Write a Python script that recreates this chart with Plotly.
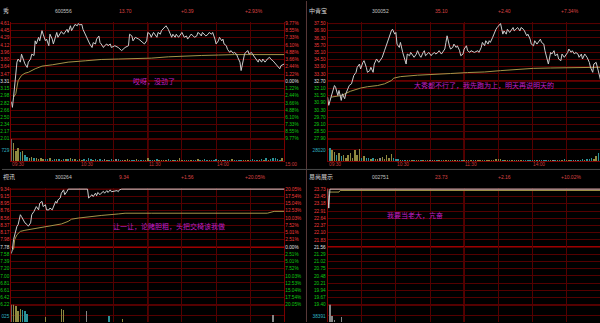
import numpy as np
import plotly.graph_objects as go

W, H = 600, 323

# ---------------- header / text data ----------------
names = ["秀", "中青宝", "视讯", "易尚展示"]
codes = ["600556", "300052", "300264", "002751"]
last_px = ["13.70", "35.10", "9.34", "23.73"]
chg = ["+0.39", "+2.40", "+1.56", "+2.16"]
chg_pct = ["+2.93%", "+7.34%", "+20.05%", "+10.02%"]
notes = ["哎呀，没劲了",
         "大秀都不行了，我先跑为上，明天再说明天的",
         "让一让，论赌胆粗，头把交椅该我做",
         "我要当老大，亢奋"]

time_ticks = [0, 60, 120, 180, 240]
time_labels = ["09:30", "10:30", "11:30", "14:00", "15:00"]
grid_minutes = [0, 30, 60, 90, 120, 150, 180, 210, 240]
vol_minutes = list(range(0, 241, 2))

# ---------------- price grid levels ----------------
tl_levels = [14.61, 14.45, 14.29, 14.12, 13.96, 13.80, 13.64, 13.47, 13.31,
             13.15, 12.98, 12.82, 12.66, 12.50, 12.34, 12.17, 12.01]
tl_labels = ["4.61", "4.45", "4.29", "4.12", "3.96", "3.80", "3.64", "3.47", "3.31",
             "3.15", "2.98", "2.82", "2.66", "2.50", "2.34", "2.17", "2.01"]
tl_pct = ["9.77%", "8.55%", "7.33%", "6.10%", "4.88%", "3.66%", "2.44%", "1.22%", "0.00%",
          "1.22%", "2.44%", "3.66%", "4.88%", "6.10%", "7.33%", "8.55%", "9.77%"]

tr_levels = [37.50, 36.90, 36.30, 35.70, 35.10, 34.50, 33.90, 33.30, 32.70,
             32.10, 31.50, 30.90, 30.30, 29.70, 29.10, 28.50, 27.90]
tr_labels = ["37.50", "36.90", "36.30", "35.70", "35.10", "34.50", "33.90", "33.30", "32.70",
             "32.10", "31.50", "30.90", "30.30", "29.70", "29.10", "28.50", "27.90"]

bl_levels = [9.34, 9.15, 8.95, 8.76, 8.56, 8.37, 8.17, 7.98, 7.78,
             7.58, 7.39, 7.20, 7.00, 6.81, 6.61, 6.42, 6.22]
bl_labels = ["9.34", "9.15", "8.95", "8.76", "8.56", "8.37", "8.17", "7.98", "7.78",
             "7.58", "7.39", "7.20", "7.00", "6.81", "6.61", "6.42", "6.22"]
bl_pct = ["20.05%", "17.54%", "15.04%", "12.53%", "10.03%", "7.52%", "5.01%", "2.51%", "0.00%",
          "2.51%", "5.01%", "7.52%", "10.03%", "12.53%", "15.04%", "17.54%", "20.05%"]

br_levels = [23.73, 23.45, 23.18, 22.91, 22.64, 22.37, 22.10, 21.83, 21.56,
             21.29, 21.02, 20.75, 20.48, 20.21, 19.94, 19.67, 19.40]
br_labels = ["23.73", "23.45", "23.18", "22.91", "22.64", "22.37", "22.10", "21.83", "21.56",
             "21.29", "21.02", "20.75", "20.48", "20.21", "19.94", "19.67", "19.40"]

# ---------------- intraday price series (minute index, price) ----------------
tl_min = [0, 1, 2, 4, 5, 6, 8, 9, 11, 12,
          14, 15, 17, 18, 20, 21, 22, 24, 25, 27,
          28, 30, 31, 33, 34, 36, 37, 39, 40, 41,
          43, 44, 46, 47, 49, 50, 52, 53, 55, 56,
          58, 59, 60, 62, 63, 65, 66, 68, 69, 71,
          72, 74, 75, 77, 78, 79, 81, 82, 84, 85,
          87, 88, 91, 94, 97, 100, 103, 104, 106, 107,
          109, 112, 114, 117, 119, 120, 122, 123, 125, 126,
          128, 129, 131, 132, 133, 135, 136, 138, 139, 141,
          142, 144, 145, 147, 150, 151, 152, 154, 155, 157,
          158, 160, 161, 163, 164, 166, 167, 168, 170, 171,
          173, 174, 176, 177, 179, 180, 182, 183, 185, 186,
          187, 189, 190, 192, 193, 195, 196, 198, 199, 201,
          202, 204, 205, 206, 208, 209, 211, 212, 214, 215,
          217, 218, 220, 221, 223, 224, 225, 227, 228, 230,
          231, 233, 234, 236, 237, 239, 240]
tl_px = [12.85, 12.72, 12.95, 13.62, 13.74, 13.81, 13.74, 13.92, 13.77, 13.70,
         13.62, 13.74, 13.81, 13.92, 13.89, 14.22, 14.15, 14.30, 14.22, 14.45,
         14.37, 14.22, 14.26, 14.11, 14.37, 14.26, 14.15, 14.30, 14.41, 14.30,
         14.41, 14.43, 14.37, 14.41, 14.48, 14.41, 14.56, 14.45, 14.53, 14.59,
         14.56, 14.61, 14.58, 14.59, 14.48, 14.37, 14.30, 14.22, 14.15, 14.07,
         14.18, 14.15, 14.26, 14.33, 14.18, 14.15, 14.07, 14.11, 14.15, 14.11,
         14.15, 14.07, 14.11, 14.07, 14.00, 14.07, 14.11, 14.37, 14.33, 14.22,
         14.30, 14.26, 14.22, 14.15, 14.22, 14.41, 14.37, 14.30, 14.41, 14.37,
         14.30, 14.41, 14.37, 14.45, 14.48, 14.52, 14.56, 14.48, 14.41, 14.30,
         14.37, 14.30, 14.37, 14.30, 14.41, 14.37, 14.30, 14.33, 14.26, 14.33,
         14.37, 14.33, 14.30, 14.33, 14.41, 14.37, 14.33, 14.41, 14.37, 14.33,
         14.37, 14.41, 14.37, 14.41, 14.26, 14.15, 14.22, 14.30, 14.22, 14.26,
         14.15, 14.11, 14.03, 13.96, 14.00, 13.94, 13.96, 13.92, 13.85, 13.74,
         13.55, 13.81, 13.92, 13.96, 14.00, 13.92, 13.96, 13.92, 13.85, 13.81,
         13.74, 13.81, 13.74, 13.81, 13.74, 13.77, 13.81, 13.85, 13.81, 13.77,
         13.74, 13.70, 13.66, 13.59, 13.66, 13.70, 13.70]
tl_avg_min = [2, 4, 6, 9, 12, 15, 21, 27, 36, 50, 65, 79, 94, 109, 123, 138, 152, 167, 182, 196, 240]
tl_avg = [12.95, 13.03, 13.32, 13.44, 13.49, 13.51, 13.59, 13.65, 13.68, 13.74, 13.77,
          13.80, 13.81, 13.82, 13.83, 13.86, 13.88, 13.89, 13.90, 13.91, 13.91]

tr_min = [0, 1, 3, 4, 6, 7, 9, 10, 12, 13,
          15, 16, 18, 19, 21, 22, 23, 25, 26, 28,
          29, 31, 32, 34, 35, 37, 38, 40, 41, 43,
          44, 45, 47, 48, 50, 51, 53, 54, 56, 57,
          59, 60, 61, 63, 64, 66, 67, 69, 70, 72,
          73, 75, 76, 78, 79, 81, 82, 84, 85, 86,
          88, 89, 91, 92, 94, 95, 97, 98, 100, 101,
          103, 104, 105, 107, 108, 110, 111, 113, 114, 116,
          117, 119, 120, 122, 123, 125, 126, 129, 132, 133,
          135, 136, 138, 139, 141, 142, 143, 145, 146, 148,
          149, 151, 152, 154, 155, 157, 158, 160, 161, 163,
          164, 166, 167, 169, 170, 172, 173, 175, 176, 178,
          179, 181, 182, 184, 185, 187, 188, 190, 191, 193,
          194, 196, 197, 199, 200, 202, 203, 205, 206, 208,
          209, 211, 212, 214, 215, 217, 218, 220, 221, 223,
          224, 226, 227, 228, 230, 231, 233, 234, 236, 237,
          239, 240]
tr_px = [31.37, 30.69, 31.37, 31.65, 32.34, 32.20, 31.51, 31.93, 31.10, 31.65,
         31.24, 31.65, 32.06, 32.34, 32.48, 32.89, 33.17, 33.44, 33.86, 34.13,
         33.72, 34.27, 34.41, 33.86, 33.44, 33.58, 33.86, 33.44, 34.13, 34.55,
         34.41, 34.27, 34.55, 34.69, 35.24, 35.51, 36.07, 36.48, 36.89, 37.03,
         36.62, 36.76, 35.79, 35.51, 35.93, 35.10, 34.69, 34.13, 34.96, 34.82,
         35.10, 34.82, 34.69, 34.96, 35.24, 34.82, 34.69, 35.10, 35.24, 34.82,
         34.96, 35.10, 34.82, 34.96, 35.10, 34.96, 35.10, 35.24, 34.96, 35.10,
         35.38, 35.93, 36.48, 35.65, 35.38, 35.51, 35.79, 35.51, 35.65, 35.24,
         34.82, 34.96, 35.38, 35.65, 35.24, 35.10, 35.24, 35.10, 35.24, 35.10,
         35.51, 35.93, 35.65, 36.07, 35.79, 36.07, 35.93, 36.34, 36.62, 37.03,
         37.17, 37.44, 37.50, 36.62, 36.89, 36.62, 37.03, 36.76, 36.89, 37.17,
         36.89, 37.03, 37.17, 36.89, 37.17, 37.03, 36.89, 36.48, 36.62, 36.20,
         35.79, 35.65, 36.07, 35.79, 35.93, 36.20, 35.93, 35.79, 35.24, 34.55,
         34.13, 35.10, 34.96, 35.24, 34.82, 34.96, 34.55, 34.41, 34.96, 34.69,
         34.82, 35.10, 35.38, 35.10, 35.24, 34.96, 35.10, 34.96, 34.69, 34.96,
         34.55, 34.96, 34.82, 34.69, 34.27, 33.86, 33.44, 34.13, 34.27, 33.86,
         32.89, 32.75]
tr_avg_min = [3, 12, 20, 29, 35, 44, 50, 56, 58, 64, 79, 94, 108, 123, 138, 152, 167, 181, 196, 211, 240]
tr_avg = [31.37, 31.51, 31.86, 32.13, 32.24, 32.34, 32.48, 32.75, 32.95, 33.08, 33.20,
          33.25, 33.34, 33.42, 33.47, 33.58, 33.69, 33.77, 33.80, 33.83, 33.86]

bl_min = [0, 1, 2, 4, 5, 6, 8, 9, 11, 12,
          14, 15, 17, 18, 20, 21, 22, 24, 25, 27,
          28, 30, 31, 33, 34, 36, 37, 39, 40, 41,
          43, 44, 46, 47, 49, 50, 67, 68, 71, 72,
          74, 75, 76, 78, 79, 81, 82, 84, 85, 87,
          88, 91, 93, 94, 95, 97, 240]
bl_px = [7.60, 7.71, 7.98, 8.25, 8.34, 8.38, 8.65, 8.60, 8.47, 8.43,
         8.38, 8.34, 8.43, 8.65, 8.74, 8.83, 8.87, 8.78, 8.96, 9.01,
         8.87, 8.92, 8.78, 8.78, 8.83, 8.78, 8.87, 9.01, 8.96, 9.05,
         9.10, 9.23, 9.32, 9.19, 9.28, 9.34, 9.34, 9.10, 9.19, 9.14,
         9.23, 9.16, 9.25, 9.19, 9.23, 9.28, 9.23, 9.30, 9.25, 9.32,
         9.27, 9.28, 9.30, 9.27, 9.32, 9.34, 9.34]
bl_avg_min = [2, 3, 5, 8, 12, 18, 24, 30, 36, 44, 50, 53, 59, 68, 79, 94, 100, 123, 167, 225, 231, 240]
bl_avg = [7.71, 7.98, 8.11, 8.20, 8.23, 8.26, 8.31, 8.34, 8.35, 8.40, 8.47,
          8.53, 8.56, 8.60, 8.63, 8.67, 8.69, 8.69, 8.69, 8.69, 8.74, 8.74]

br_min = [0, 1, 2, 240]
br_px = [23.73, 23.02, 23.73, 23.73]
br_avg_min = [1, 10, 11, 240]
br_avg = [23.62, 23.62, 23.68, 23.68]

# ---------------- volume (per 2 minutes) ----------------
tl_vol = [1420, 1160, 650, 830, 610, 675, 390, 280, 220, 280,
          175, 220, 150, 175, 110, 150, 130, 175, 90, 130,
          110, 150, 90, 110, 130, 120, 200, 150, 110, 90,
          120, 80, 100, 90, 220, 130, 90, 100, 80, 120,
          90, 110, 70, 90, 120, 80, 100, 150, 90, 80,
          70, 100, 90, 60, 80, 110, 70, 60, 90, 80,
          200, 90, 70, 80, 100, 60, 90, 70, 80, 110,
          80, 60, 70, 90, 220, 80, 70, 60, 90, 80,
          70, 60, 100, 80, 70, 150, 90, 60, 80, 70,
          110, 80, 60, 70, 90, 80, 60, 160, 80, 70,
          90, 70, 80, 60, 90, 70, 110, 80, 70, 60,
          100, 90, 200, 80, 150, 230, 180, 110, 90, 200,
          240]
tr_vol = [54500, 32000, 27600, 23400, 15000, 19400, 12600, 15000, 8300, 15000,
          19400, 8300, 27600, 15000, 30000, 8300, 12000, 8300, 6600, 5000,
          8300, 6000, 5000, 8300, 11000, 5000, 15000, 8300, 18000, 6600,
          5000, 4000, 3000, 2500, 3500, 2000, 3000, 2500, 2000, 3000,
          2500, 2000, 1800, 2500, 2000, 3000, 2000, 1800, 2500, 2000,
          1500, 2000, 1800, 1500, 2000, 1800, 2500, 1500, 2000, 1800,
          3500, 2500, 2000, 1800, 3000, 2500, 2000, 2500, 3000, 2000,
          2500, 2000, 3000, 2500, 4500, 5000, 4000, 3000, 2500, 2000,
          2500, 2000, 1800, 2500, 2000, 1800, 2500, 2000, 3000, 2500,
          3500, 2500, 2000, 2500, 3000, 2500, 2000, 2500, 3000, 2500,
          3000, 2500, 3000, 3500, 4000, 3500, 3000, 2500, 3000, 3500,
          3000, 3500, 4000, 3500, 5000, 4000, 8000, 6000, 12000, 20000,
          15000]
bl_vol = [2200, 2100, 1930, 1470, 1650, 1560, 1470, 1200, 420, 380,
          300, 350, 280, 300, 250, 900, 350, 300, 250, 200,
          300, 250, 1650, 1560, 300, 250, 200, 300, 250, 200,
          250, 200, 150, 1500, 300, 200, 150, 200, 250, 150,
          200, 150, 100, 1040, 200, 150, 100, 150, 200, 735,
          150, 100, 120, 150, 100, 130, 110, 150, 100, 120,
          140, 100, 120, 150, 110, 100, 130, 120, 100, 140,
          110, 100, 130, 120, 150, 100, 120, 110, 100, 130,
          120, 100, 140, 110, 100, 120, 130, 100, 110, 150,
          100, 120, 110, 130, 100, 140, 120, 100, 110, 130,
          120, 100, 150, 110, 130, 100, 120, 140, 110, 160,
          150, 180, 200, 160, 220, 1100, 250, 200, 300, 350,
          400]
br_vol = [20000, 78000, 39000, 25000, 12000, 10000, 34000, 9000, 8000, 7000,
          6000, 8000, 5000, 7000, 6000, 5000, 4000, 6000, 5000, 4000,
          5000, 4000, 3000, 4000, 5000, 3000, 4000, 3000, 2500, 3000,
          4000, 3000, 2500, 3000, 2000, 2500, 3000, 2000, 2500, 2000,
          2000, 2500, 3000, 2000, 1500, 2000, 2500, 2000, 1500, 2000,
          1500, 2000, 1800, 1500, 2000, 1500, 1800, 2000, 1500, 1800,
          2000, 1500, 1800, 1500, 2000, 1800, 1500, 2000, 1800, 1500,
          1800, 2000, 1500, 1800, 1500, 2000, 1800, 1500, 2000, 1800,
          1500, 1800, 2000, 1500, 1800, 2000, 1500, 1800, 1500, 2000,
          1800, 1500, 2000, 1800, 1500, 2000, 1800, 1500, 1800, 2000,
          2000, 2500, 2000, 3000, 2500, 2000, 3000, 2500, 3000, 3500,
          3000, 3500, 4000, 3500, 4000, 5000, 4500, 5000, 6000, 8000,
          9000]
vol_mid_labels = ["729", "28020", "025", "38391"]
vol_tops = [1458, 56040, 2050, 76782]

# ---------------- styles ----------------
GRID = "#540000"
BORDER = "#7a0000"
BRIGHT = "#a80000"
BASE = "#d00000"
RED_T = "#f03a3a"
GREEN_T = "#10c810"
WHITE_T = "#e0e0e0"
CYAN_T = "#30b0c0"
PRICE_C = "#cccccc"
AVG_C = "#a49448"
UP_C = "#8e8840"
DN_C = "#2a9298"
FLAT_C = "#868686"
NOTE_C = "#c01ec4"
NUM_FONT = "Liberation Sans, Arial, sans-serif"
CJK_FONT = "Noto Sans CJK SC, sans-serif"

X_PX = [(9.3, 283.3), (326.7, 600.0)]
SPAN_PX = 274.0
PRICE_PX = [(22.7, 138.7), (189.3, 305.7)]
VOL_PX = [(138.7, 161.0), (305.7, 328.0)]
HEAD_Y = [10.0, 176.7]
TIME_Y = 165.0
HEAD_X = [[0, 52, 116, 179, 243], [307, 370, 433, 497, 560]]
NOTE_XY = [(152.5, 80.7), (484, 85), (168, 226), (414, 215)]
P = 1.5

panels = [
    dict(mins=tl_min, pxs=tl_px, amin=tl_avg_min, avg=tl_avg, lv=tl_levels, lab=tl_labels, pct=tl_pct, vol=tl_vol),
    dict(mins=tr_min, pxs=tr_px, amin=tr_avg_min, avg=tr_avg, lv=tr_levels, lab=tr_labels, pct=None, vol=tr_vol),
    dict(mins=bl_min, pxs=bl_px, amin=bl_avg_min, avg=bl_avg, lv=bl_levels, lab=bl_labels, pct=bl_pct, vol=bl_vol),
    dict(mins=br_min, pxs=br_px, amin=br_avg_min, avg=br_avg, lv=br_levels, lab=br_labels, pct=None, vol=br_vol),
]


def colored(labels, mid=8):
    out = []
    for k, t in enumerate(labels):
        c = RED_T if k < mid else (WHITE_T if k == mid else GREEN_T)
        out.append(f"<span style='color:{c}'>{t}</span>")
    return out


def vol_colors(vm, mins, pxs):
    pm = np.interp(vm, mins, pxs)
    d = np.diff(pm, prepend=pm[0])
    return [UP_C if v > 1e-9 else (DN_C if v < -1e-9 else FLAT_C) for v in d]


def lk(a, n):
    return a + ("" if n == 1 else str(n))


fig = go.Figure()
layout = {}
shapes = []
annotations = []

for i, pn in enumerate(panels):
    col, row = i % 2, i // 2
    x0p, x1p = X_PX[col]
    xr = [0, 240 * (x1p - x0p) / SPAN_PX]
    xdom = [x0p / W, x1p / W]
    pt, pb = PRICE_PX[row]
    lv = pn["lv"]
    hi, lo = lv[0], lv[-1]
    unit = (hi - lo) / (pb - pt)
    ydom = [1 - (pb + P) / H, 1 - (pt - P) / H]
    yr = [lo - P * unit, hi + P * unit]
    vt, vb = VOL_PX[row]
    vdom = [max(0.0, 1 - vb / H), 1 - vt / H]
    vtop = vol_tops[i]
    vr = [vtop * max(0.0, vb - H) / (vb - vt), vtop]

    ip, iv = 2 * i + 1, 2 * i + 2
    xp, yp, xv, yv = lk("x", ip), lk("y", ip), lk("x", iv), lk("y", iv)

    layout[lk("xaxis", ip)] = dict(domain=xdom, range=xr, anchor=yp, tickvals=grid_minutes,
                                   showticklabels=False, showgrid=True, gridcolor=GRID, gridwidth=1,
                                   zeroline=False, showline=False, ticks="", fixedrange=True)
    layout[lk("yaxis", ip)] = dict(domain=ydom, range=yr, anchor=xp, tickvals=lv,
                                   ticktext=colored(pn["lab"]),
                                   tickfont=dict(size=4.7, family=NUM_FONT, color=WHITE_T),
                                   showgrid=True, gridcolor=GRID, gridwidth=1, zeroline=False,
                                   showline=True, linecolor=BORDER, linewidth=1, mirror=(col == 0),
                                   ticks="", layer="below traces", fixedrange=True)
    layout[lk("xaxis", iv)] = dict(domain=xdom, range=xr, anchor=yv, tickvals=grid_minutes,
                                   showticklabels=False, showgrid=True, gridcolor=GRID, gridwidth=1,
                                   zeroline=False, showline=(row == 0), linecolor=BORDER, linewidth=1,
                                   ticks="", fixedrange=True)
    layout[lk("yaxis", iv)] = dict(domain=vdom, range=vr, anchor=xv, tickvals=[vtop / 2],
                                   ticktext=[vol_mid_labels[i]],
                                   tickfont=dict(size=4.7, family=NUM_FONT, color=CYAN_T),
                                   showgrid=True, gridcolor=GRID, gridwidth=1, zeroline=False,
                                   showline=True, linecolor=BORDER, linewidth=1, mirror=(col == 0),
                                   ticks="", fixedrange=True)

    # percentage axis on the right (left column only)
    if pn["pct"] is not None:
        ia = 9 + row
        ya = lk("y", ia)
        layout[lk("yaxis", ia)] = dict(overlaying=yp, side="right", anchor=xp, range=yr,
                                       tickvals=lv, ticktext=colored(pn["pct"]),
                                       tickfont=dict(size=4.7, family=NUM_FONT, color=WHITE_T),
                                       showgrid=False, zeroline=False, showline=False, ticks="",
                                       fixedrange=True)
        fig.add_trace(go.Scatter(x=[xr[0]], y=[lv[8]], mode="none", xaxis=xp, yaxis=ya,
                                 hoverinfo="skip", showlegend=False))

    vx = vol_minutes[:len(pn["vol"])]
    fig.add_trace(go.Bar(x=vx, y=pn["vol"], width=1.25,
                         marker=dict(color=vol_colors(vx, pn["mins"], pn["pxs"]), line=dict(width=0)),
                         xaxis=xv, yaxis=yv, showlegend=False, hoverinfo="skip"))
    fig.add_trace(go.Scatter(x=pn["amin"], y=pn["avg"], mode="lines",
                             line=dict(color=AVG_C, width=1), xaxis=xp, yaxis=yp,
                             showlegend=False, hoverinfo="skip"))
    fig.add_trace(go.Scatter(x=pn["mins"], y=pn["pxs"], mode="lines",
                             line=dict(color=PRICE_C, width=1), xaxis=xp, yaxis=yp,
                             showlegend=False, hoverinfo="skip"))

    # borders, base line, midday line
    shapes.append(dict(type="line", xref=f"{xp} domain", x0=0, x1=1, yref=yp, y0=hi, y1=hi,
                       line=dict(color=BORDER, width=1), layer="below"))
    shapes.append(dict(type="line", xref=f"{xp} domain", x0=0, x1=1, yref=yp, y0=lo, y1=lo,
                       line=dict(color=BRIGHT, width=1.2), layer="below"))
    shapes.append(dict(type="line", xref=f"{xp} domain", x0=0, x1=1, yref=yp, y0=lv[8], y1=lv[8],
                       line=dict(color=BASE, width=1.6), layer="below"))
    shapes.append(dict(type="line", xref=xp, x0=120, x1=120, yref=yp, y0=lo, y1=hi,
                       line=dict(color=BRIGHT, width=1.2), layer="below"))
    shapes.append(dict(type="line", xref=xv, x0=120, x1=120, yref=f"{yv} domain", y0=0, y1=1,
                       line=dict(color=BRIGHT, width=1.2), layer="below"))

    # header row
    hy = 1 - HEAD_Y[row] / H
    htexts = [names[i], codes[i], last_px[i], chg[i], chg_pct[i]]
    hcols = ["#d6d6d6", "#c4c4c4", "#dc4444", "#dc4444", "#dc4444"]
    for k, t in enumerate(htexts):
        annotations.append(dict(text=t, xref="paper", yref="paper", x=HEAD_X[col][k] / W, y=hy,
                                xanchor="left", yanchor="middle", showarrow=False, borderpad=0,
                                font=dict(size=6 if k == 0 else 5,
                                          family=CJK_FONT if k == 0 else NUM_FONT, color=hcols[k])))

    # time labels below volume (top row only; bottom row is cut off)
    if row == 0:
        for tm, tl in zip(time_ticks, time_labels):
            annotations.append(dict(text=tl, xref=xv, yref="paper", x=tm, y=1 - TIME_Y / H,
                                    xanchor="left", yanchor="middle", showarrow=False, borderpad=0,
                                    font=dict(size=4.8, family=NUM_FONT, color="#cc3a3a")))

    # note text
    nx, ny = NOTE_XY[i]
    annotations.append(dict(text=notes[i], xref="paper", yref="paper", x=nx / W, y=1 - ny / H,
                            xanchor="center", yanchor="middle", showarrow=False, borderpad=0,
                            font=dict(size=7, family=CJK_FONT, color=NOTE_C)))

# panel separators
shapes.append(dict(type="line", xref="paper", yref="paper", x0=305.5 / W, x1=305.5 / W, y0=0, y1=1,
                   line=dict(color="#5a3a3a", width=1)))
shapes.append(dict(type="line", xref="paper", yref="paper", x0=0, x1=1, y0=1 - 169.5 / H, y1=1 - 169.5 / H,
                   line=dict(color="#4a4a4a", width=1)))

fig.update_layout(width=W, height=H, margin=dict(l=0, r=0, t=0, b=0, pad=0),
                  paper_bgcolor="#000000", plot_bgcolor="rgba(0,0,0,0)",
                  showlegend=False, hovermode=False, bargap=0,
                  shapes=shapes, annotations=annotations, **layout)

fig.write_html("out.html", config={"displayModeBar": False, "staticPlot": True})

with open("out.html", "r", encoding="utf-8") as f:
    html = f.read()
html = html.replace("<head>", "<head><style>html,body{margin:0;padding:0;background:#000;}</style>", 1)
with open("out.html", "w", encoding="utf-8") as f:
    f.write(html)
